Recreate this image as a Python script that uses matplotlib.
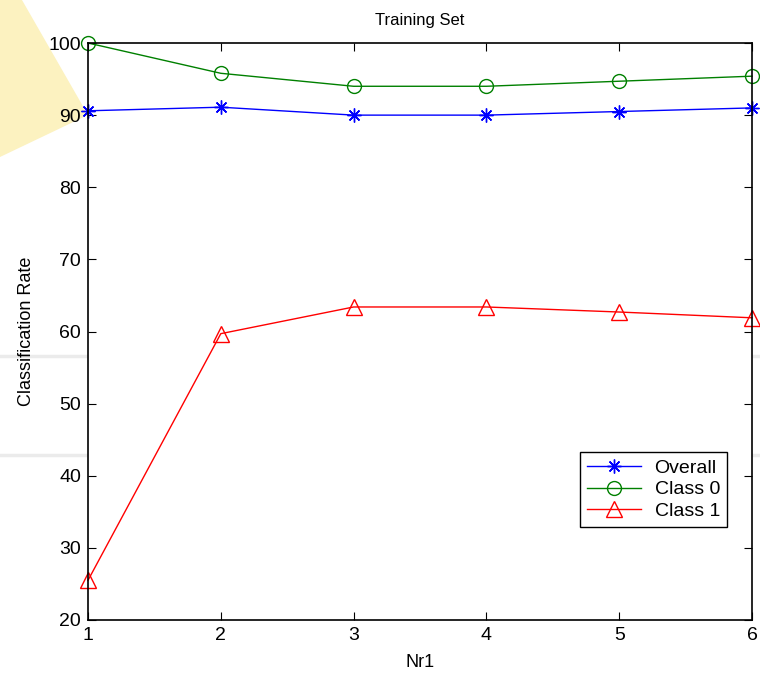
import numpy as np
import matplotlib
matplotlib.use("Agg")
import matplotlib.pyplot as plt
from matplotlib.patches import Polygon
from matplotlib.lines import Line2D

plt.rcParams['font.family'] = ['Liberation Sans', 'DejaVu Sans']

# Data
nr1 = [1, 2, 3, 4, 5, 6]
overall = [90.6, 91.1, 90.0, 90.0, 90.5, 91.0]
class0 = [100.0, 95.8, 94.0, 94.0, 94.7, 95.4]
class1 = [25.5, 59.7, 63.4, 63.4, 62.7, 61.9]

fig = plt.figure(figsize=(7.6, 6.76), dpi=100)

# slide background bits: yellow wedge and faint grey rules
W, H = 760, 676
wedge = Polygon([(0 / W, 1 - 0 / H), (22 / W, 1 - 0 / H), (88 / W, 1 - 115 / H), (0 / W, 1 - 157 / H)],
                closed=True, transform=fig.transFigure, facecolor='#fcf2c0', edgecolor='none', zorder=-2)
fig.patches.append(wedge)
for yy in [356, 455]:
    fig.lines.append(Line2D([0, 1], [1 - yy / H, 1 - yy / H], transform=fig.transFigure,
                            color='#ebebeb', lw=2.5, zorder=-1))

ax = fig.add_axes([88 / W, 56 / H, 664 / W, 577 / H])
ax.plot(nr1, overall, color='#0000ff', marker=(8, 2, 0), ms=10, mew=1, lw=1, label='Overall', clip_on=False)
ax.plot(nr1, class0, color='#008000', marker='o', ms=10, mfc='none', mew=1, lw=1, label='Class 0', clip_on=False)
ax.plot(nr1, class1, color='#ff0000', marker='^', ms=11, mfc='none', mew=1, lw=1, label='Class 1', clip_on=False)

ax.set_xlim(1, 6)
ax.set_ylim(20, 100)
ax.set_xticks(nr1)
ax.set_yticks(np.arange(20, 101, 10))
ax.tick_params(direction='in', length=6, top=True, right=True, labelsize=14, pad=5)
for s in ax.spines.values():
    s.set_linewidth(1.2)

ax.set_title('Training Set', fontsize=12, pad=13)
ax.set_xlabel('Nr1', fontsize=13, labelpad=7)
ax.set_ylabel('Classification Rate', fontsize=13, labelpad=10)

leg = ax.legend(loc='lower right', bbox_to_anchor=(0.962, 0.161), fontsize=14, fancybox=False,
                edgecolor='black', framealpha=1, borderpad=0.35, handlelength=2.8,
                handletextpad=0.7, labelspacing=0.22, borderaxespad=0)
leg.get_frame().set_linewidth(1.0)

fig.savefig('out.png', dpi=100)
